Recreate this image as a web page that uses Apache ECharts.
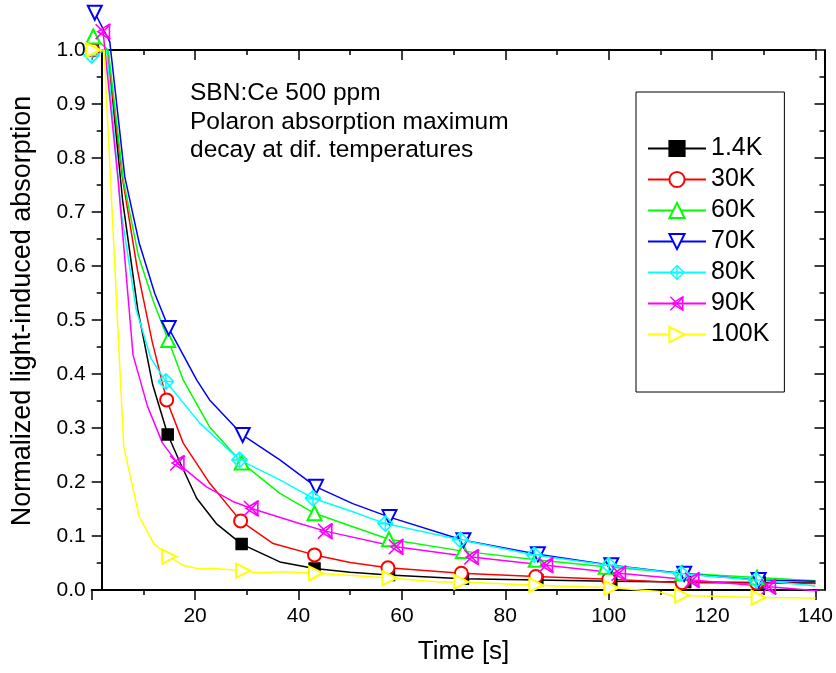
<!DOCTYPE html>
<html><head><meta charset="utf-8">
<script src="https://cdn.jsdelivr.net/npm/echarts@6/dist/echarts.min.js"></script>
<style>html,body{margin:0;padding:0;background:#fff}#c{width:836px;height:673px}</style>
</head><body><div id="c"></div>
<script>
const seriesNames = ['1.4K', '30K', '60K', '70K', '80K', '90K', '100K'];
const xTickValues = [20, 40, 60, 80, 100, 120, 140];
const yTickValues = [0.0, 0.1, 0.2, 0.3, 0.4, 0.5, 0.6, 0.7, 0.8, 0.9, 1.0];

// Marker points [time s, normalized absorption]
const mark_1_4K = [[0.2,1.0],[14.7,0.288],[29.0,0.085],[43.1,0.040],[57.5,0.028],[71.8,0.021],[86.2,0.0185],[100.5,0.016],[114.8,0.015],[129.2,0.014]];
const mark_30K  = [[0.2,1.0],[14.5,0.352],[28.8,0.128],[43.1,0.065],[57.3,0.041],[71.5,0.031],[85.9,0.025],[100.0,0.020],[114.2,0.0136],[128.6,0.013]];
const mark_60K  = [[0.3,1.025],[14.8,0.463],[29.0,0.236],[43.1,0.142],[57.5,0.094],[71.8,0.072],[85.9,0.056],[99.4,0.043],[114.2,0.031],[128.7,0.023]];
const mark_70K  = [[0.6,1.069],[14.9,0.485],[29.2,0.287],[43.4,0.191],[57.6,0.135],[71.9,0.092],[86.3,0.066],[100.5,0.046],[114.6,0.030],[129.0,0.0185]];
const mark_80K  = [[0.0,0.99],[14.35,0.386],[28.6,0.241],[42.8,0.170],[56.8,0.123],[71.3,0.093],[85.6,0.065],[100.0,0.046],[114.0,0.030],[128.5,0.0185]];
const mark_90K  = [[2.2,1.034],[16.6,0.235],[30.9,0.151],[45.2,0.109],[58.9,0.080],[73.5,0.061],[87.9,0.046],[102.0,0.031],[116.2,0.0185],[131.0,0.006]];
const mark_100K = [[0.3,1.0],[15.0,0.062],[29.3,0.036],[43.4,0.031],[57.6,0.022],[71.5,0.015],[86.0,0.009],[100.5,0.004],[114.2,-0.010],[129.0,-0.014]];

// Intermediate measured points of the traces (no marker)
const curve_1_4K = [[3.1,1.0],[6.0,0.72],[8.9,0.52],[11.8,0.38],[17.0,0.238],[20.3,0.170],[24.1,0.123],[36.4,0.052],[50.0,0.033],[140.0,0.013]];
const curve_30K  = [[3.0,1.0],[6.0,0.76],[8.9,0.59],[11.7,0.46],[17.7,0.272],[22.8,0.198],[35.1,0.086],[50.0,0.051],[140.0,0.012]];
const curve_60K  = [[3.2,1.0],[6.1,0.76],[9.0,0.62],[11.9,0.535],[17.7,0.389],[22.8,0.302],[36.4,0.179],[50.5,0.117],[140.0,0.017]];
const curve_70K  = [[3.5,1.015],[6.4,0.765],[9.2,0.642],[12.2,0.549],[20.3,0.389],[22.8,0.352],[36.4,0.241],[50.5,0.160],[140.0,0.016]];
const curve_80K  = [[2.9,1.0],[5.7,0.70],[8.6,0.52],[11.4,0.43],[20.9,0.309],[36.4,0.204],[50.5,0.145],[140.0,0.0074]];
const curve_90K  = [[5.1,0.76],[8.0,0.435],[10.8,0.34],[13.7,0.272],[22.2,0.191],[27.3,0.164],[40.2,0.123],[142.0,-0.003]];
const curve_100K = [[2.4,1.0],[6.2,0.265],[9.2,0.136],[12.0,0.086],[17.6,0.046],[20.3,0.040],[23.5,0.040],[31.9,0.032],[37.0,0.034],[49.0,0.028],[67.3,0.015],[109.7,-0.003],[113.0,-0.013],[140.0,-0.015]];

const marks = [mark_1_4K, mark_30K, mark_60K, mark_70K, mark_80K, mark_90K, mark_100K];
const curves = [curve_1_4K, curve_30K, curve_60K, curve_70K, curve_80K, curve_90K, curve_100K];
const colors = ['#000000', '#ff0000', '#00ff00', '#0000ff', '#00ffff', '#ff00ff', '#ffff00'];

function svgSymbol(d, stroke) {
  const svg = "<svg xmlns='http://www.w3.org/2000/svg' width='32' height='32' viewBox='0 0 32 32'>" +
    "<path d='" + d + "' fill='none' stroke='" + stroke + "' stroke-width='3' stroke-linejoin='miter'/></svg>";
  return 'image://data:image/svg+xml;charset=utf-8,' + encodeURIComponent(svg);
}
const diamondCross = svgSymbol('M16 1.5L30.5 16L16 30.5L1.5 16Z M16 1.5V30.5 M1.5 16H30.5', 'rgb(0,255,255)');
const xTriangle = svgSymbol('M2 2L30 30 M2 30L30 2 M28 2L6 16L28 30Z', 'rgb(255,0,255)');

const symbols = [
  {symbol: 'rect', rotate: 0, size: 11},
  {symbol: 'emptyCircle', rotate: 0, size: 13},
  {symbol: 'emptyTriangle', rotate: 0, size: 14},
  {symbol: 'emptyTriangle', rotate: 180, size: 14},
  {symbol: diamondCross, rotate: 0, size: 17},
  {symbol: xTriangle, rotate: 0, size: 17},
  {symbol: 'emptyTriangle', rotate: -90, size: 14}
];

function build(m, c) {
  const items = m.map(p => ({value: p})).concat(c.map(p => ({value: p, symbol: 'none'})));
  items.sort((a, b) => a.value[0] - b.value[0]);
  return items;
}

const FONT = '"Liberation Sans", Arial, Helvetica, sans-serif';

const series = seriesNames.map((name, i) => ({
  name: name,
  type: 'line',
  clip: false,
  data: build(marks[i], curves[i]),
  symbol: symbols[i].symbol,
  symbolSize: symbols[i].size,
  symbolRotate: symbols[i].rotate,
  showAllSymbol: true,
  color: colors[i],
  lineStyle: {color: colors[i], width: 1.5},
  itemStyle: {color: colors[i], borderColor: colors[i], borderWidth: 1.5},
  emphasis: {disabled: true},
  animation: false
}));

const chart = echarts.init(document.getElementById('c'), null, {renderer: 'canvas'});
const axisLineStyle = {color: '#000', width: 2};
chart.setOption({
  animation: false,
  backgroundColor: '#fff',
  grid: {left: 91.7, right: 19.3, top: 50, bottom: 83},
  xAxis: [
    {
      type: 'value', position: 'bottom', min: 0, max: 140, interval: 20,
      name: 'Time [s]', nameLocation: 'middle', nameGap: 49,
      nameTextStyle: {fontSize: 26, fontFamily: FONT, color: '#000', padding: [0, 0, 0, 20]},
      axisLine: {show: true, onZero: false, lineStyle: axisLineStyle},
      axisTick: {show: true, inside: false, length: 10, lineStyle: {color: '#000', width: 1.5}},
      minorTick: {show: true, splitNumber: 2, length: 5, lineStyle: {color: '#000', width: 1.5}},
      axisLabel: {show: true, showMinLabel: false, fontSize: 21, fontFamily: FONT, color: '#000', margin: 16,
        formatter: v => (xTickValues.indexOf(v) >= 0 ? String(v) : '')},
      splitLine: {show: false}, minorSplitLine: {show: false}
    },
    {
      type: 'value', position: 'top', min: 0, max: 140, interval: 20,
      axisLine: {show: true, onZero: false, lineStyle: axisLineStyle},
      axisTick: {show: true, inside: true, length: 10, lineStyle: {color: '#000', width: 1.5}},
      minorTick: {show: true, splitNumber: 2, length: 5, lineStyle: {color: '#000', width: 1.5}},
      axisLabel: {show: false}, splitLine: {show: false}
    }
  ],
  yAxis: [
    {
      type: 'value', position: 'left', offset: -10, min: 0, max: 1, interval: 0.1,
      name: 'Normalized light-induced absorption', nameLocation: 'middle', nameGap: 66,
      nameTextStyle: {fontSize: 27, fontFamily: FONT, color: '#000', padding: [0, 0, 0, 18]},
      axisLine: {show: true, onZero: false, lineStyle: axisLineStyle},
      axisTick: {show: true, inside: false, length: 10, lineStyle: {color: '#000', width: 1.5}},
      minorTick: {show: true, splitNumber: 2, length: 5, lineStyle: {color: '#000', width: 1.5}},
      axisLabel: {show: true, fontSize: 21, fontFamily: FONT, color: '#000', margin: 16,
        formatter: v => yTickValues.some(t => Math.abs(t - v) < 1e-6) ? v.toFixed(1) : ''},
      splitLine: {show: false}
    },
    {
      type: 'value', position: 'right', offset: 9, min: 0, max: 1, interval: 0.1,
      axisLine: {show: true, onZero: false, lineStyle: axisLineStyle},
      axisTick: {show: true, inside: true, length: 10, lineStyle: {color: '#000', width: 1.5}},
      minorTick: {show: true, splitNumber: 2, length: 5, lineStyle: {color: '#000', width: 1.5}},
      axisLabel: {show: false}, splitLine: {show: false}
    }
  ],
  legend: {
    orient: 'vertical', left: 636, top: 92,
    data: seriesNames,
    itemWidth: 58, itemHeight: 19, itemGap: 6,
    padding: [44, 15, 45, 11],
    backgroundColor: '#fff', borderColor: '#000', borderWidth: 1,
    textStyle: {fontSize: 25, fontFamily: FONT, color: '#000'},
    selectedMode: false
  },
  graphic: [{
    type: 'text', left: 190, top: 79, z: 100,
    style: {
      text: 'SBN:Ce 500 ppm\nPolaron absorption maximum\ndecay at dif. temperatures',
      fontSize: 24.5, fontFamily: FONT, lineHeight: 28.5, fill: '#000'
    }
  }],
  series: series
});
</script>
</body></html>
